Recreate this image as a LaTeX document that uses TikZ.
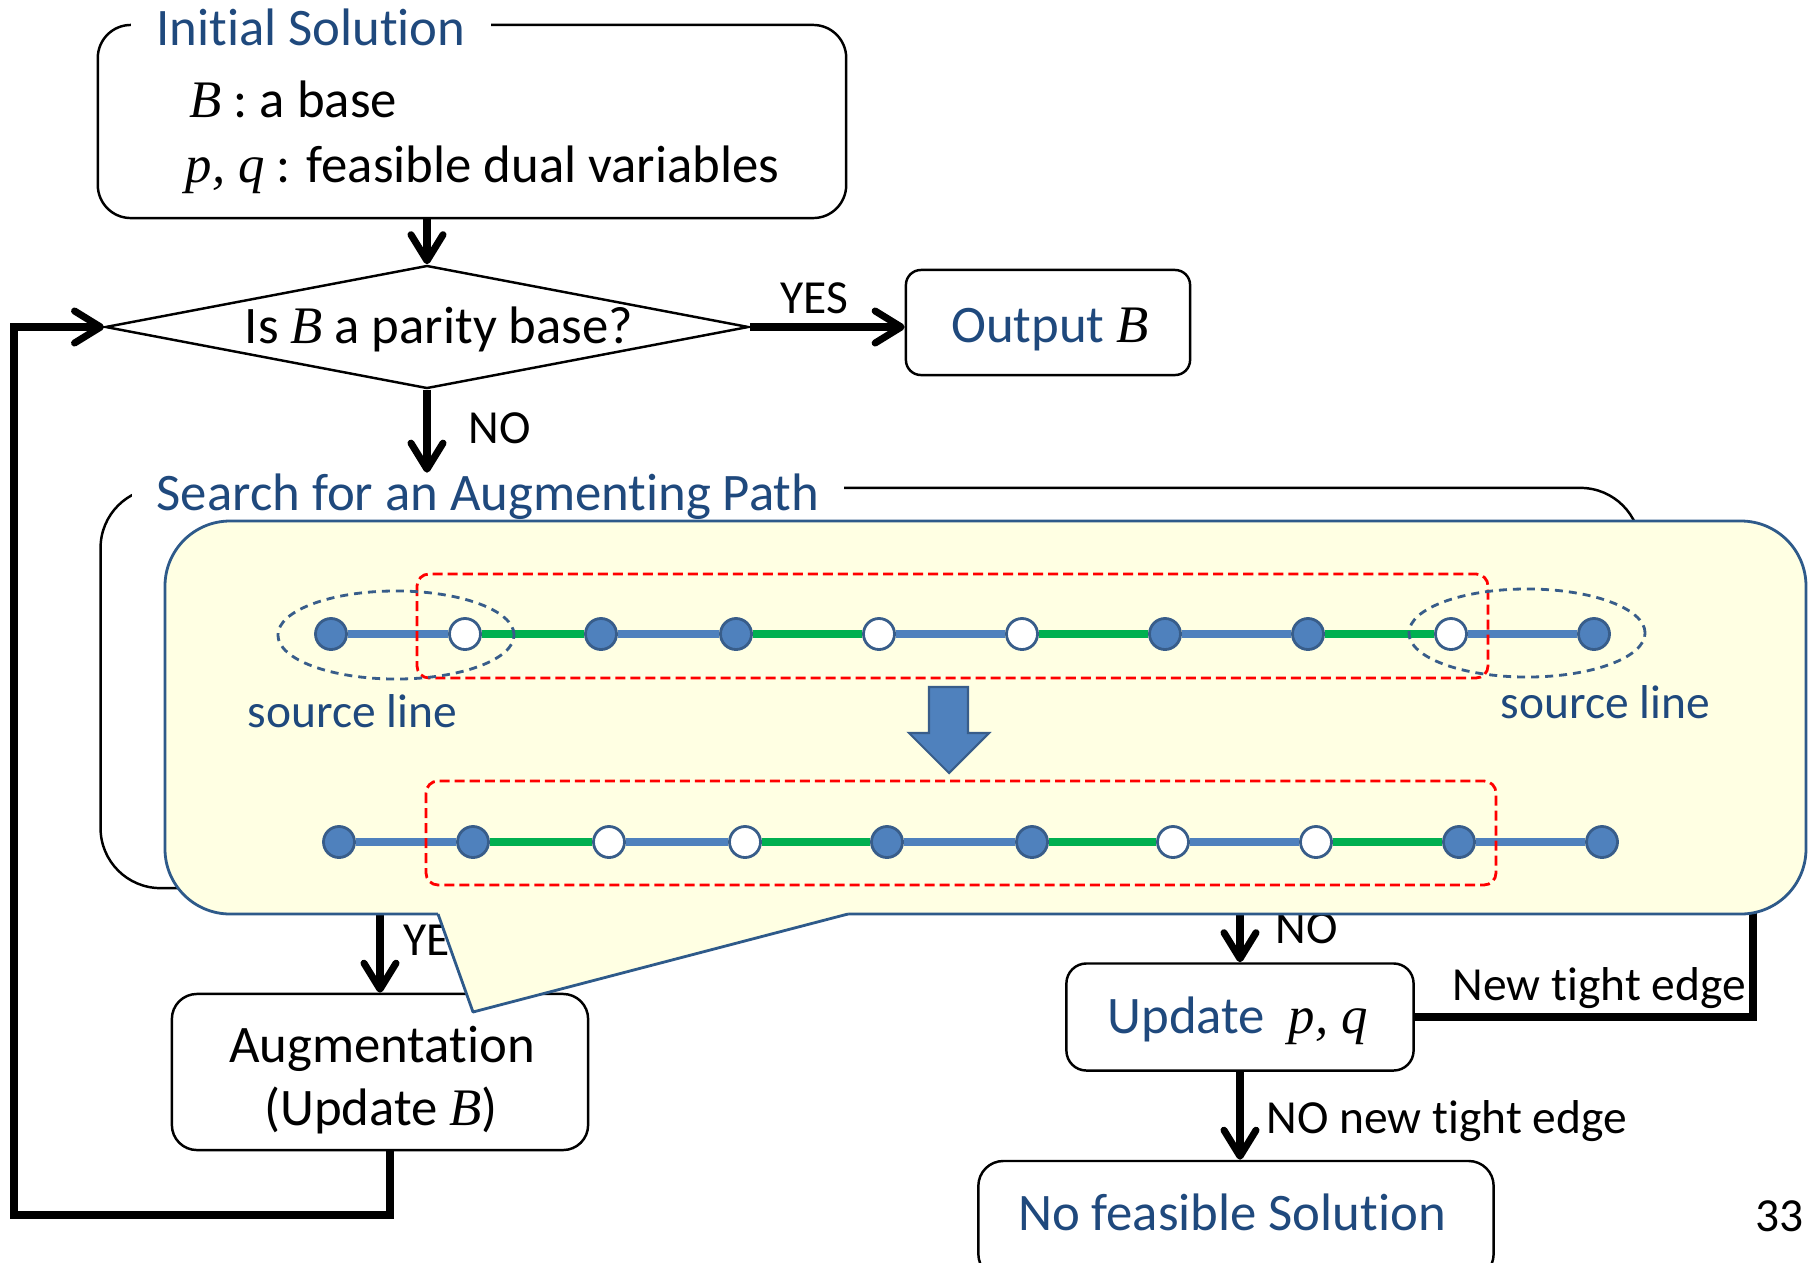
\documentclass[tikz,border=0pt]{standalone}
\usepackage{fontspec}
\setmainfont[RawFeature={-liga;-clig;-dlig;-calt}]{Carlito}
\newfontfamily\tms{Liberation Serif}
\usepackage{tikz}
\usetikzlibrary{calc, arrows.meta, shapes.geometric}

\definecolor{txtblue}{HTML}{1F497D}
\definecolor{nodeblue}{HTML}{4F81BD}
\definecolor{nodeline}{HTML}{385D8A}
\definecolor{pathgreen}{HTML}{00B050}
\definecolor{callfill}{HTML}{FFFFE3}
\definecolor{callline}{HTML}{2E5A8A}

\newcommand{\mv}[1]{{\tms\itshape #1}}

\begin{document}
\begin{tikzpicture}[x=0.01cm, y=-0.01cm, font=\fontsize{15}{18}\selectfont]
	\tikzstyle{box} = [draw=black, line width=0.7pt, rectangle, inner sep=0pt, fill=white]
	\tikzstyle{ttl} = [fill=white, text=txtblue, inner ysep=0pt, inner xsep=0.25cm, anchor=base]
	\tikzstyle{txt} = [inner sep=0pt, anchor=base west]
	\tikzstyle{mid} = [inner sep=0pt, anchor=base]
	\tikzstyle{lbl} = [inner sep=0pt, anchor=base west, font=\fontsize{13.5}{16}\selectfont]
	\tikzstyle{flow} = [line width=2pt, -{Straight Barb[round, length=0.26cm, width=0.32cm]}]
	\tikzstyle{fnode} = [circle, draw=nodeline, fill=nodeblue, line width=0.8pt, minimum size=0.31cm, inner sep=0pt]
	\tikzstyle{wnode} = [circle, draw=nodeline, fill=white, line width=0.8pt, minimum size=0.31cm, inner sep=0pt]
	\tikzstyle{bedge} = [draw=nodeblue, line width=2pt]
	\tikzstyle{gedge} = [draw=pathgreen, line width=2pt]
	\tikzstyle{redbox} = [draw=red, line width=0.8pt, dash pattern=on 0.1cm off 0.05cm, rounded corners=0.12cm]
	\tikzstyle{srcring} = [draw=nodeline, line width=0.8pt, dash pattern=on 0.08cm off 0.06cm]
	
	\useasboundingbox (0,0) rectangle (1808,1263);
	
	% initial solution and parity test
	\node[box, rounded corners=0.33cm, minimum width=7.48cm, minimum height=1.93cm] at (472,121.5) (init) {};
	\node[ttl] at (311,45) (inittitle) {Initial Solution};
	\node[txt] at (189,117) (initb) {\mv{B} : a base};
	\node[txt] at (185,182) (initpq) {\mv{p, q} : feasible dual variables};
	
	\node[draw=black, line width=0.7pt, diamond, inner sep=0pt, minimum width=6.43cm, minimum height=1.23cm] at (427,327) (dia) {};
	\node[mid] at (439,343) (diatext) {Is \mv{B} a parity base?};
	
	\node[box, rounded corners=0.15cm, minimum width=2.84cm, minimum height=1.05cm] at (1048,322.5) (out) {};
	\node[mid, text=txtblue] at (1050,342) (outtext) {Output \textcolor{black}{\mv{B}}};
	
	\path[flow]
	(dia.north |- init.south)	edge	(dia.north)
	(dia.east)	edge	(out.west |- dia.east);
	\node[lbl] at (780,313) (yes1) {YES};
	
	% search box
	\node[box, rounded corners=0.6cm, minimum width=15.39cm, minimum height=4cm] at (870.5,688) (search) {};
	\node[ttl] at (488,510) (searchtitle) {Search for an Augmenting Path};
	\path[flow] (dia.south) edge (dia.south |- searchtitle.north);
	\node[lbl] at (468,443) (no1) {NO};
	
	% lower boxes
	\node[box, rounded corners=0.25cm, minimum width=4.16cm, minimum height=1.56cm] at (380,1072) (aug) {};
	\node[mid] at (382,1062) (augtext) {Augmentation};
	\node[mid] at (381,1125) (augtext2) {(Update \mv{B})};
	
	\node[box, rounded corners=0.2cm, minimum width=3.47cm, minimum height=1.07cm] at (1240,1017) (upd) {};
	\node[txt, text=txtblue] at (1107,1033) (updtext) {Update\ \ \textcolor{black}{\mv{p, q}}};
	
	\node[box, rounded corners=0.25cm, minimum width=5.15cm, minimum height=1.18cm] at (1236,1220) (nofeas) {};
	\node[mid, text=txtblue] at (1232,1230) (nofeastext) {No feasible Solution};
	
	\coordinate (nte) at (1753,850);
	\coordinate (lp) at (390,1215);
	\coordinate (lpc) at (14,1215);
	
	\path[flow]
	(aug.north |- search.south)	edge	(aug.north)
	(upd.north |- search.south)	edge	(upd.north)
	(upd.south)	edge	(upd.south |- nofeas.north);
	\draw[flow] (upd.east) -| (nte);
	\draw[flow] (aug.south -| lp) -- (lp) -- (lpc) |- (dia.west);
	
	\node[lbl] at (403,955) (yes2) {YES};
	\node[lbl] at (1275,943) (no2) {NO};
	\node[lbl] at (1452,1000) (newtight) {New tight edge};
	\node[lbl] at (1266,1133) (nonew) {NO new tight edge};
	
	% callout with the two paths
	\draw[draw=callline, fill=callfill, line width=0.8pt, rounded corners=0.65cm] (165,521) rectangle (1806,914);
	\coordinate (tip) at (473,1012);
	\fill[callfill] (438,914) -- (tip) -- (848,914) -- (848,905) -- (438,905) -- cycle;
	\draw[draw=callline, line width=0.8pt, line join=round] (438,914) -- (tip) -- (848,914);
	
	\node[fnode] at (331,634) (a1) {};
	\node[wnode] at (465,634) (a2) {};
	\node[fnode] at (601,634) (a3) {};
	\node[fnode] at (736,634) (a4) {};
	\node[wnode] at (879,634) (a5) {};
	\node[wnode] at (1022,634) (a6) {};
	\node[fnode] at (1165,634) (a7) {};
	\node[fnode] at (1308,634) (a8) {};
	\node[wnode] at (1451,634) (a9) {};
	\node[fnode] at (1594,634) (a10) {};
	
	\node[fnode] at (339,842) (b1) {};
	\node[fnode] at (473,842) (b2) {};
	\node[wnode] at (609,842) (b3) {};
	\node[wnode] at (745,842) (b4) {};
	\node[fnode] at (887,842) (b5) {};
	\node[fnode] at (1032,842) (b6) {};
	\node[wnode] at (1173,842) (b7) {};
	\node[wnode] at (1316,842) (b8) {};
	\node[fnode] at (1459,842) (b9) {};
	\node[fnode] at (1602,842) (b10) {};
	
	\path[bedge]
	(a1) edge (a2) (a3) edge (a4) (a5) edge (a6) (a7) edge (a8) (a9) edge (a10)
	(b1) edge (b2) (b3) edge (b4) (b5) edge (b6) (b7) edge (b8) (b9) edge (b10);
	\path[gedge]
	(a2) edge (a3) (a4) edge (a5) (a6) edge (a7) (a8) edge (a9)
	(b2) edge (b3) (b4) edge (b5) (b6) edge (b7) (b8) edge (b9);
	
	\draw[redbox] (417,574) rectangle (1488,678);
	\draw[redbox] (426,781) rectangle (1496,885);
	\draw[srcring] (396,635) ellipse [x radius=1.18cm, y radius=0.44cm];
	\draw[srcring] (1527,633) ellipse [x radius=1.18cm, y radius=0.44cm];
	\node[lbl, text=txtblue] at (247,727) (srcleft) {source line};
	\node[lbl, text=txtblue] at (1500,718) (srcright) {source line};
	
	\draw[draw=nodeline, fill=nodeblue, line width=0.6pt] (929,687) -- (968,687) -- (968,733) -- (989,733) -- (949,773) -- (909,733) -- (929,733) -- cycle;
	
	\node[lbl] at (1755,1231) (pagenum) {33};
\end{tikzpicture}
\end{document}
